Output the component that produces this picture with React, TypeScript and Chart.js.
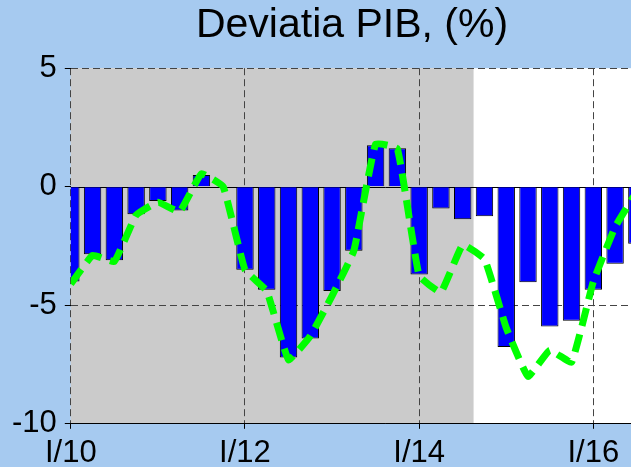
import React, { useEffect, useRef } from 'react';
import { Chart, registerables } from 'chart.js';

Chart.register(...registerables);

const chartTitle = 'Deviatia PIB, (%)';

const quarters = [
  'I/10', 'II/10', 'III/10', 'IV/10',
  'I/11', 'II/11', 'III/11', 'IV/11',
  'I/12', 'II/12', 'III/12', 'IV/12',
  'I/13', 'II/13', 'III/13', 'IV/13',
  'I/14', 'II/14', 'III/14', 'IV/14',
  'I/15', 'II/15', 'III/15', 'IV/15',
  'I/16', 'II/16', 'III/16',
];

// blue bars
const gapBars = [
  -4.0, -2.85, -3.1, -1.16,
  -0.6, -1.0, 0.5, 0.0,
  -3.5, -4.35, -7.2, -6.4,
  -4.4, -2.7, 1.75, 1.62,
  -3.7, -0.92, -1.37, -1.24,
  -6.76, -4.03, -5.9, -5.65,
  -4.35, -3.25, -2.4,
];

// green dashed line
const gapLine = [
  -4.1, -2.9, -3.15, -1.2,
  -0.65, -1.05, 0.55, 0.0,
  -3.5, -4.4, -7.3, -6.3,
  -4.6, -2.7, 1.8, 1.6,
  -3.75, -4.45, -2.45, -3.05,
  -5.95, -8.0, -6.9, -7.4,
  -4.0, -1.7, -0.2,
];

const yTickValues = [5, 0, -5, -10];
const xTickLabels = ['I/10', 'I/12', 'I/14', 'I/16'];
const lastShadedQuarter = 'III/14';

const FONT = "'Liberation Sans', Arial, sans-serif";

const backgroundPlugin = {
  id: 'bgShade',
  beforeDraw(chart: any) {
    const { ctx, chartArea, scales } = chart;
    ctx.save();
    ctx.fillStyle = '#a6caf0';
    ctx.fillRect(0, 0, chart.width, chart.height);
    ctx.fillStyle = '#ffffff';
    ctx.fillRect(chartArea.left, chartArea.top, chartArea.right - chartArea.left, chartArea.bottom - chartArea.top);
    const endIdx = quarters.indexOf(lastShadedQuarter) + 0.5;
    const xEnd = scales.x.getPixelForValue(endIdx);
    ctx.fillStyle = '#cbcbcb';
    ctx.fillRect(chartArea.left, chartArea.top, xEnd - chartArea.left, chartArea.bottom - chartArea.top);
    ctx.restore();
  },
  beforeDatasetsDraw(chart: any) {
    const { ctx, chartArea, scales } = chart;
    const y0 = Math.round(scales.y.getPixelForValue(0)) + 0.5;
    ctx.save();
    ctx.strokeStyle = '#000000';
    ctx.lineWidth = 1;
    ctx.beginPath();
    ctx.moveTo(chartArea.left, y0);
    ctx.lineTo(chartArea.right, y0);
    ctx.stroke();
    ctx.restore();
  },
};

export default function App() {
  const canvasRef = useRef<HTMLCanvasElement | null>(null);

  useEffect(() => {
    if (!canvasRef.current) return;
    const chart = new Chart(canvasRef.current, {
      type: 'bar',
      data: {
        datasets: [
          {
            type: 'line',
            label: 'line',
            data: gapLine.map((y, i) => ({ x: i, y })),
            borderColor: '#00ff00',
            borderWidth: 7,
            borderDash: [18, 9],
            borderCapStyle: 'butt',
            pointRadius: 0,
            tension: 0.1,
            fill: false,
            order: 0,
            clip: 0,
          } as any,
          {
            type: 'bar',
            label: 'bars',
            data: gapBars.map((y, i) => ({ x: i, y })),
            backgroundColor: '#0000ff',
            borderColor: '#000000',
            borderWidth: 1,
            barPercentage: 0.8,
            categoryPercentage: 1,
            order: 1,
            clip: 0,
          } as any,
        ],
      },
      options: {
        responsive: false,
        animation: false,
        devicePixelRatio: 1,
        layout: { padding: { left: 4, right: 4, top: 0, bottom: 0 } },
        plugins: {
          legend: { display: false },
          tooltip: { enabled: false },
          title: {
            display: true,
            text: chartTitle,
            color: '#000000',
            font: { family: FONT, size: 41, weight: 'normal' },
            padding: { top: 1, bottom: 18 },
          },
        },
        scales: {
          x: {
            type: 'linear',
            min: 0,
            max: 28.9,
            offset: false,
            afterBuildTicks: (scale: any) => {
              scale.ticks = xTickLabels.map((l) => ({ value: quarters.indexOf(l) }));
            },
            ticks: {
              autoSkip: false,
              maxRotation: 0,
              padding: 6.5,
              color: '#000000',
              font: { family: FONT, size: 31 },
              callback: (v: any) => quarters[Number(v)] ?? '',
            },
            grid: {
              offset: false,
              color: '#444444',
              lineWidth: 1,
              tickColor: '#000000',
              tickLength: 5,
            },
            border: { display: true, color: '#000000', width: 1, dash: [7, 4] },
          },
          y: {
            type: 'linear',
            min: -10,
            max: 5,
            afterBuildTicks: (scale: any) => {
              scale.ticks = yTickValues.map((v) => ({ value: v }));
            },
            ticks: {
              padding: 8,
              color: '#000000',
              font: { family: FONT, size: 31 },
              callback: (v: any) => String(v),
            },
            grid: {
              color: (c: any) => (c.tick && c.tick.value === 0 ? 'rgba(0,0,0,0)' : '#444444'),
              lineWidth: 1,
              tickColor: '#000000',
              tickLength: 6,
            },
            border: { display: false, dash: [7, 4] },
          },
        },
      },
      plugins: [backgroundPlugin],
    } as any);
    return () => chart.destroy();
  }, []);

  return (
    <div
      style={{
        position: 'fixed',
        left: 0,
        top: 0,
        width: 631,
        height: 467,
        overflow: 'hidden',
        background: '#a6caf0',
      }}
    >
      <canvas ref={canvasRef} width={704} height={479} style={{ display: 'block' }} />
    </div>
  );
}
